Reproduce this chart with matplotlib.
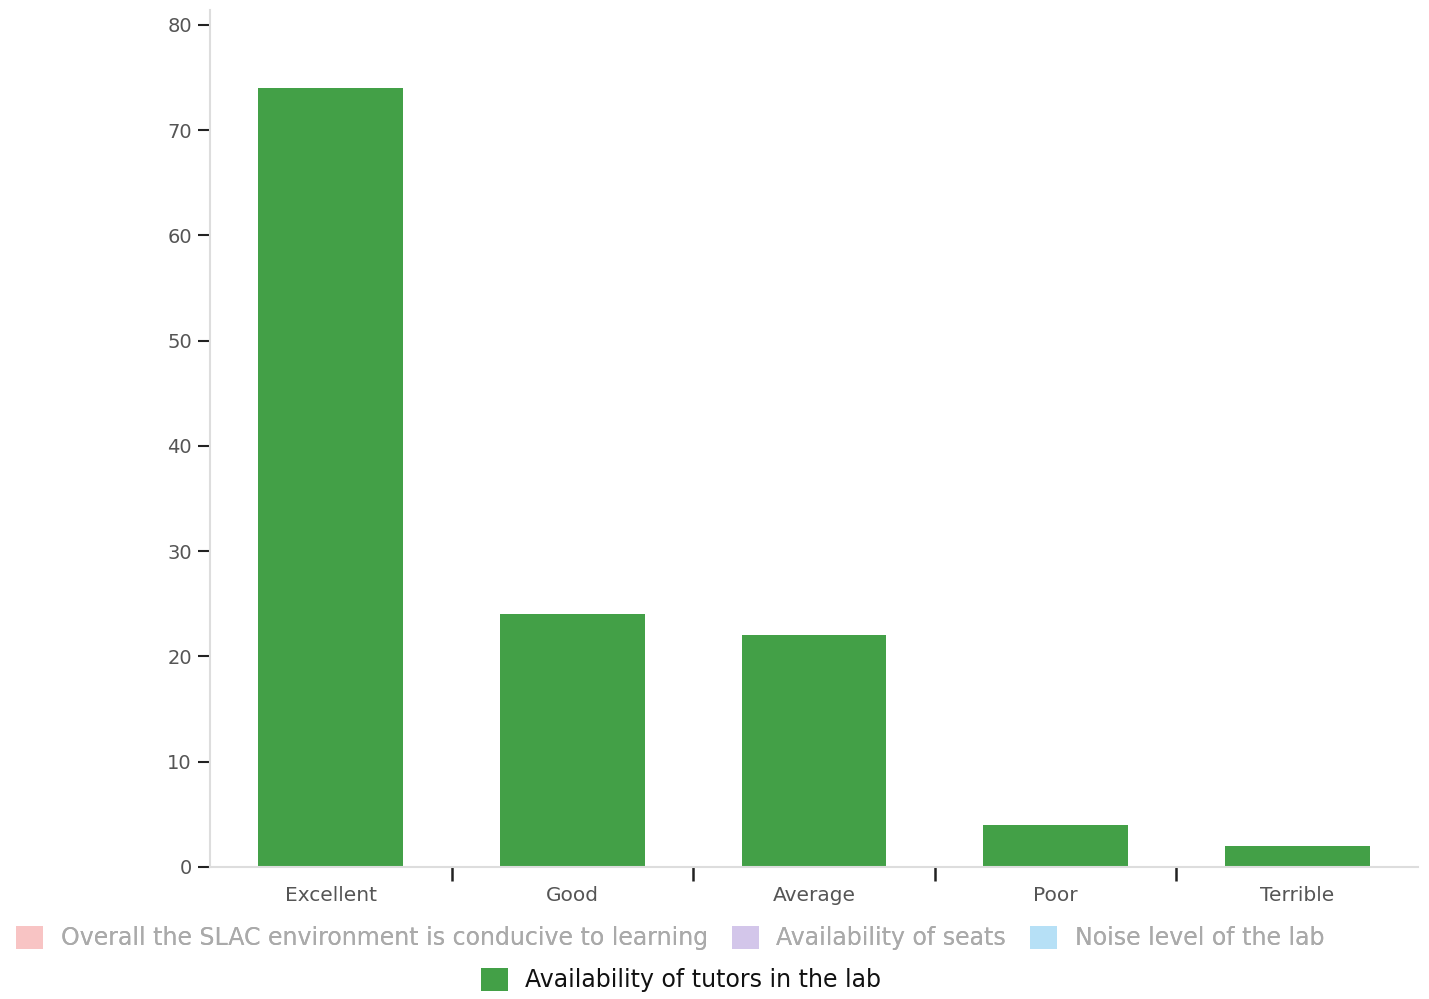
import matplotlib.pyplot as plt
from matplotlib.patches import Patch
from matplotlib.ticker import FixedLocator, NullFormatter

plt.rcParams['font.family'] = ['DejaVu Sans']

# data
categories = ['Excellent', 'Good', 'Average', 'Poor', 'Terrible']
tutors = [74, 24, 22, 4, 2]

series_names = ['Overall the SLAC environment is conducive to learning',
                'Availability of seats', 'Noise level of the lab',
                'Availability of tutors in the lab']
series_colors = ['#f8c4c4', '#d3c6ea', '#b6e0f6', '#43a047']

fig = plt.figure(figsize=(14.29, 9.99), dpi=100)
ax = fig.add_axes([210 / 1429, 1 - 867 / 999, 1208 / 1429, 857 / 999])

x = range(len(categories))
ax.bar(x, tutors, width=0.6, color=series_colors[3], zorder=2)

ax.set_xlim(-0.5, len(categories) - 0.5)
ax.set_ylim(0, 81.4)
ax.set_yticks(range(0, 81, 10))

# category labels at centres, ticks at boundaries
ax.set_xticks(list(x))
ax.set_xticklabels(categories)
ax.tick_params(axis='x', which='major', length=0, pad=14, labelsize=14.5, labelcolor='#555555')
ax.xaxis.set_minor_locator(FixedLocator([i + 0.5 for i in range(len(categories) - 1)]))
ax.xaxis.set_minor_formatter(NullFormatter())
ax.tick_params(axis='x', which='minor', length=10, width=1.8, color='#222222', direction='out')
ax.tick_params(axis='y', length=9, width=1.5, color='#222222', pad=4, labelsize=14, labelcolor='#555555')

for s in ['top', 'right']:
    ax.spines[s].set_visible(False)
for s in ['left', 'bottom']:
    ax.spines[s].set_color('#dddddd')
    ax.spines[s].set_linewidth(1.5)

handles = [Patch(facecolor=c, edgecolor='none') for c in series_colors]

leg1 = fig.legend(handles[:3], series_names[:3], ncol=3, loc='center',
                  bbox_to_anchor=(670 / 1429, 1 - 938 / 999), frameon=False,
                  fontsize=17, handlelength=1.15, handleheight=1.15,
                  handletextpad=0.75, columnspacing=1.0, borderaxespad=0, borderpad=0)
for t in leg1.get_texts():
    t.set_color('#aaaaaa')
leg2 = fig.legend(handles[3:], series_names[3:], loc='center',
                  bbox_to_anchor=(681 / 1429, 1 - 980 / 999), frameon=False,
                  fontsize=17, handlelength=1.15, handleheight=1.15,
                  handletextpad=0.75, borderaxespad=0, borderpad=0)
for t in leg2.get_texts():
    t.set_color('#111111')
fig.add_artist(leg1)

fig.savefig('out.png', dpi=100)
